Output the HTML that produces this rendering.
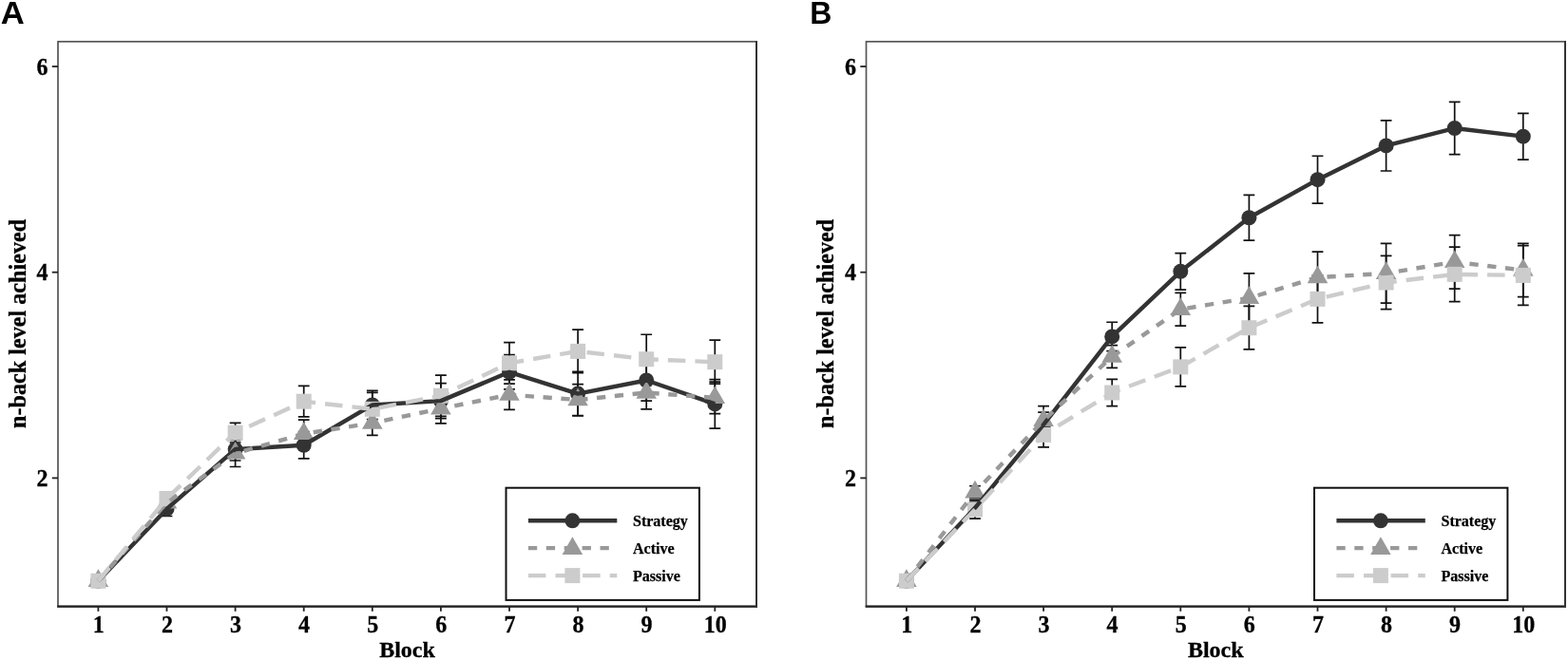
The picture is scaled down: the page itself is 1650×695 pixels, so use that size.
<!DOCTYPE html>
<html><head><meta charset="utf-8"><title>n-back level achieved by block</title>
<style>
html,body{margin:0;padding:0;background:#fff;}
body{width:1650px;height:695px;overflow:hidden;}
svg{display:block;}
.tk{font-family:"Liberation Serif",serif;font-weight:bold;font-size:24px;fill:#000;stroke:#000;stroke-width:0.3px;}
.ax{font-family:"Liberation Serif",serif;font-weight:bold;font-size:24px;fill:#000;stroke:#000;stroke-width:0.3px;}
.lg{font-family:"Liberation Serif",serif;font-weight:bold;font-size:16px;fill:#000;stroke:#000;stroke-width:0.25px;}
.pl{font-family:"Liberation Sans",sans-serif;font-weight:bold;font-size:33px;fill:#000;}
</style></head>
<body>
<svg width="1650" height="695" viewBox="0 0 1650 695">
<rect width="1650" height="695" fill="#fff"/>
<text transform="translate(0.86,24.75) scale(1.05,1)" class="pl">A</text>
<text transform="translate(852.3,24.75) scale(0.97,1)" class="pl">B</text>
<rect x="61.00" y="43.80" width="735.00" height="594.80" fill="none" stroke="#555" stroke-width="1.7"/>
<line x1="60.20" y1="638.60" x2="797.00" y2="638.60" stroke="#222" stroke-width="2.2"/>
<line x1="796.00" y1="43.00" x2="796.00" y2="639.60" stroke="#333" stroke-width="2.0"/>
<line x1="54.80" y1="503.40" x2="61.00" y2="503.40" stroke="#222" stroke-width="1.8"/>
<text transform="translate(50.40,511.90) scale(1,1.06)" class="tk" text-anchor="end">2</text>
<line x1="54.80" y1="286.70" x2="61.00" y2="286.70" stroke="#222" stroke-width="1.8"/>
<text transform="translate(50.40,295.20) scale(1,1.06)" class="tk" text-anchor="end">4</text>
<line x1="54.80" y1="70.00" x2="61.00" y2="70.00" stroke="#222" stroke-width="1.8"/>
<text transform="translate(50.40,78.50) scale(1,1.06)" class="tk" text-anchor="end">6</text>
<line x1="103.40" y1="638.60" x2="103.40" y2="643.80" stroke="#222" stroke-width="1.8"/>
<text transform="translate(103.80,665.7) scale(1,1.06)" class="tk" text-anchor="middle">1</text>
<line x1="175.50" y1="638.60" x2="175.50" y2="643.80" stroke="#222" stroke-width="1.8"/>
<text transform="translate(175.90,665.7) scale(1,1.06)" class="tk" text-anchor="middle">2</text>
<line x1="247.60" y1="638.60" x2="247.60" y2="643.80" stroke="#222" stroke-width="1.8"/>
<text transform="translate(248.00,665.7) scale(1,1.06)" class="tk" text-anchor="middle">3</text>
<line x1="319.70" y1="638.60" x2="319.70" y2="643.80" stroke="#222" stroke-width="1.8"/>
<text transform="translate(320.10,665.7) scale(1,1.06)" class="tk" text-anchor="middle">4</text>
<line x1="391.80" y1="638.60" x2="391.80" y2="643.80" stroke="#222" stroke-width="1.8"/>
<text transform="translate(392.20,665.7) scale(1,1.06)" class="tk" text-anchor="middle">5</text>
<line x1="463.90" y1="638.60" x2="463.90" y2="643.80" stroke="#222" stroke-width="1.8"/>
<text transform="translate(464.30,665.7) scale(1,1.06)" class="tk" text-anchor="middle">6</text>
<line x1="536.00" y1="638.60" x2="536.00" y2="643.80" stroke="#222" stroke-width="1.8"/>
<text transform="translate(536.40,665.7) scale(1,1.06)" class="tk" text-anchor="middle">7</text>
<line x1="608.10" y1="638.60" x2="608.10" y2="643.80" stroke="#222" stroke-width="1.8"/>
<text transform="translate(608.50,665.7) scale(1,1.06)" class="tk" text-anchor="middle">8</text>
<line x1="680.20" y1="638.60" x2="680.20" y2="643.80" stroke="#222" stroke-width="1.8"/>
<text transform="translate(680.60,665.7) scale(1,1.06)" class="tk" text-anchor="middle">9</text>
<line x1="752.30" y1="638.60" x2="752.30" y2="643.80" stroke="#222" stroke-width="1.8"/>
<text transform="translate(752.70,665.7) scale(1,1.06)" class="tk" text-anchor="middle">10</text>
<text x="428.50" y="691.6" class="ax" text-anchor="middle">Block</text>
<text transform="translate(26.50,340.90) rotate(-90)" class="ax" style="font-size:24.2px" text-anchor="middle">n-back level achieved</text>
<path d="M169.60 528.32H181.40M175.50 528.32V543.49M169.60 543.49H181.40" stroke="#111" stroke-width="1.7" fill="none"/>
<path d="M241.70 461.14H253.50M247.60 461.14V484.98M241.70 484.98H253.50" stroke="#111" stroke-width="1.7" fill="none"/>
<path d="M313.80 454.64H325.60M319.70 454.64V482.81M313.80 482.81H325.60" stroke="#111" stroke-width="1.7" fill="none"/>
<path d="M385.90 411.30H397.70M391.80 411.30V441.64M385.90 441.64H397.70" stroke="#111" stroke-width="1.7" fill="none"/>
<path d="M458.00 403.72H469.80M463.90 403.72V440.56M458.00 440.56H469.80" stroke="#111" stroke-width="1.7" fill="none"/>
<path d="M530.10 373.71H541.90M536.00 373.71V409.89M530.10 409.89H541.90" stroke="#111" stroke-width="1.7" fill="none"/>
<path d="M602.20 391.26H614.00M608.10 391.26V437.85M602.20 437.85H614.00" stroke="#111" stroke-width="1.7" fill="none"/>
<path d="M674.30 378.80H686.10M680.20 378.80V422.14M674.30 422.14H686.10" stroke="#111" stroke-width="1.7" fill="none"/>
<path d="M746.40 399.60H758.20M752.30 399.60V451.18M746.40 451.18H758.20" stroke="#111" stroke-width="1.7" fill="none"/>
<path d="M169.60 522.90H181.40M175.50 522.90V535.90M169.60 535.90H181.40" stroke="#111" stroke-width="1.7" fill="none"/>
<path d="M241.70 463.31H253.50M247.60 463.31V491.48M241.70 491.48H253.50" stroke="#111" stroke-width="1.7" fill="none"/>
<path d="M313.80 442.07H325.60M319.70 442.07V471.55M313.80 471.55H325.60" stroke="#111" stroke-width="1.7" fill="none"/>
<path d="M385.90 432.43H397.70M391.80 432.43V458.43M385.90 458.43H397.70" stroke="#111" stroke-width="1.7" fill="none"/>
<path d="M458.00 414.55H469.80M463.90 414.55V445.97M458.00 445.97H469.80" stroke="#111" stroke-width="1.7" fill="none"/>
<path d="M530.10 399.93H541.90M536.00 399.93V431.35M530.10 431.35H541.90" stroke="#111" stroke-width="1.7" fill="none"/>
<path d="M602.20 404.58H614.00M608.10 404.58V437.52M602.20 437.52H614.00" stroke="#111" stroke-width="1.7" fill="none"/>
<path d="M674.30 396.13H686.10M680.20 396.13V430.81M674.30 430.81H686.10" stroke="#111" stroke-width="1.7" fill="none"/>
<path d="M746.40 402.20H758.20M752.30 402.20V435.57M746.40 435.57H758.20" stroke="#111" stroke-width="1.7" fill="none"/>
<path d="M169.60 518.57H181.40M175.50 518.57V531.57M169.60 531.57H181.40" stroke="#111" stroke-width="1.7" fill="none"/>
<path d="M241.70 445.43H253.50M247.60 445.43V466.02M241.70 466.02H253.50" stroke="#111" stroke-width="1.7" fill="none"/>
<path d="M313.80 406.43H325.60M319.70 406.43V438.93M313.80 438.93H325.60" stroke="#111" stroke-width="1.7" fill="none"/>
<path d="M385.90 413.47H397.70M391.80 413.47V448.14M385.90 448.14H397.70" stroke="#111" stroke-width="1.7" fill="none"/>
<path d="M458.00 395.05H469.80M463.90 395.05V438.39M458.00 438.39H469.80" stroke="#111" stroke-width="1.7" fill="none"/>
<path d="M530.10 360.70H541.90M536.00 360.70V404.04M530.10 404.04H541.90" stroke="#111" stroke-width="1.7" fill="none"/>
<path d="M602.20 347.16H614.00M608.10 347.16V392.67M602.20 392.67H614.00" stroke="#111" stroke-width="1.7" fill="none"/>
<path d="M674.30 352.25H686.10M680.20 352.25V404.26M674.30 404.26H686.10" stroke="#111" stroke-width="1.7" fill="none"/>
<path d="M746.40 358.21H758.20M752.30 358.21V404.15M746.40 404.15H758.20" stroke="#111" stroke-width="1.7" fill="none"/>
<circle cx="103.40" cy="611.75" r="8.00" fill="#333333"/>
<circle cx="175.50" cy="535.90" r="8.00" fill="#333333"/>
<circle cx="247.60" cy="473.06" r="8.00" fill="#333333"/>
<circle cx="319.70" cy="468.73" r="8.00" fill="#333333"/>
<circle cx="391.80" cy="426.47" r="8.00" fill="#333333"/>
<circle cx="463.90" cy="422.14" r="8.00" fill="#333333"/>
<circle cx="536.00" cy="391.80" r="8.00" fill="#333333"/>
<circle cx="608.10" cy="414.55" r="8.00" fill="#333333"/>
<circle cx="680.20" cy="400.47" r="8.00" fill="#333333"/>
<circle cx="752.30" cy="425.39" r="8.00" fill="#333333"/>
<polygon points="103.40,599.31 114.17,617.97 92.63,617.97" fill="#999999"/>
<polygon points="175.50,516.96 186.27,535.62 164.73,535.62" fill="#999999"/>
<polygon points="247.60,464.96 258.37,483.62 236.83,483.62" fill="#999999"/>
<polygon points="319.70,444.37 330.47,463.03 308.93,463.03" fill="#999999"/>
<polygon points="391.80,432.99 402.57,451.65 381.03,451.65" fill="#999999"/>
<polygon points="463.90,417.82 474.67,436.48 453.13,436.48" fill="#999999"/>
<polygon points="536.00,403.20 546.77,421.86 525.23,421.86" fill="#999999"/>
<polygon points="608.10,408.61 618.87,427.27 597.33,427.27" fill="#999999"/>
<polygon points="680.20,401.03 690.97,419.69 669.43,419.69" fill="#999999"/>
<polygon points="752.30,406.45 763.07,425.11 741.53,425.11" fill="#999999"/>
<rect x="95.40" y="603.75" width="16.00" height="16.00" fill="#cccccc"/>
<rect x="167.50" y="517.07" width="16.00" height="16.00" fill="#cccccc"/>
<rect x="239.60" y="447.73" width="16.00" height="16.00" fill="#cccccc"/>
<rect x="311.70" y="414.68" width="16.00" height="16.00" fill="#cccccc"/>
<rect x="383.80" y="422.81" width="16.00" height="16.00" fill="#cccccc"/>
<rect x="455.90" y="408.72" width="16.00" height="16.00" fill="#cccccc"/>
<rect x="528.00" y="374.37" width="16.00" height="16.00" fill="#cccccc"/>
<rect x="600.10" y="361.91" width="16.00" height="16.00" fill="#cccccc"/>
<rect x="672.20" y="370.26" width="16.00" height="16.00" fill="#cccccc"/>
<rect x="744.30" y="373.18" width="16.00" height="16.00" fill="#cccccc"/>
<polyline points="103.40,611.75 175.50,535.90 247.60,473.06 319.70,468.73 391.80,426.47 463.90,422.14 536.00,391.80 608.10,414.55 680.20,400.47 752.30,425.39" fill="none" stroke="#333333" stroke-width="4.4" stroke-linejoin="round"/>
<polyline points="103.40,611.75 175.50,529.40 247.60,477.40 319.70,456.81 391.80,445.43 463.90,430.26 536.00,415.64 608.10,421.05 680.20,413.47 752.30,418.89" fill="none" stroke="#999999" stroke-width="4.4" stroke-linejoin="round" stroke-dasharray="9.3 9.6"/>
<polyline points="103.40,611.75 175.50,525.07 247.60,455.73 319.70,422.68 391.80,430.81 463.90,416.72 536.00,382.37 608.10,369.91 680.20,378.26 752.30,381.18" fill="none" stroke="#cccccc" stroke-width="4.4" stroke-linejoin="round" stroke-dasharray="18.5 10.1"/>
<rect x="532.50" y="513.70" width="203.40" height="118.20" fill="#fff" stroke="#111" stroke-width="2"/>
<line x1="555.90" y1="548.3" x2="649.30" y2="548.3" stroke="#333333" stroke-width="4.4"/>
<circle cx="602.40" cy="548.30" r="8.00" fill="#333333"/>
<line x1="555.90" y1="577.1" x2="649.30" y2="577.1" stroke="#999999" stroke-width="4.4" stroke-dasharray="9.3 9.6"/>
<polygon points="602.40,565.26 613.17,583.92 591.63,583.92" fill="#999999"/>
<line x1="555.90" y1="606.1" x2="649.30" y2="606.1" stroke="#cccccc" stroke-width="4.4" stroke-dasharray="18.5 10.1"/>
<rect x="594.40" y="598.10" width="16.00" height="16.00" fill="#cccccc"/>
<text x="666.00" y="554.10" class="lg">Strategy</text>
<text x="666.00" y="582.90" class="lg">Active</text>
<text x="666.00" y="611.90" class="lg">Passive</text>
<rect x="911.50" y="43.80" width="735.50" height="594.80" fill="none" stroke="#555" stroke-width="1.7"/>
<line x1="910.70" y1="638.60" x2="1648.00" y2="638.60" stroke="#222" stroke-width="2.2"/>
<line x1="1647.00" y1="43.00" x2="1647.00" y2="639.60" stroke="#333" stroke-width="2.0"/>
<line x1="905.30" y1="503.40" x2="911.50" y2="503.40" stroke="#222" stroke-width="1.8"/>
<text transform="translate(900.90,511.90) scale(1,1.06)" class="tk" text-anchor="end">2</text>
<line x1="905.30" y1="286.70" x2="911.50" y2="286.70" stroke="#222" stroke-width="1.8"/>
<text transform="translate(900.90,295.20) scale(1,1.06)" class="tk" text-anchor="end">4</text>
<line x1="905.30" y1="70.00" x2="911.50" y2="70.00" stroke="#222" stroke-width="1.8"/>
<text transform="translate(900.90,78.50) scale(1,1.06)" class="tk" text-anchor="end">6</text>
<line x1="953.90" y1="638.60" x2="953.90" y2="643.80" stroke="#222" stroke-width="1.8"/>
<text transform="translate(954.30,665.7) scale(1,1.06)" class="tk" text-anchor="middle">1</text>
<line x1="1026.00" y1="638.60" x2="1026.00" y2="643.80" stroke="#222" stroke-width="1.8"/>
<text transform="translate(1026.40,665.7) scale(1,1.06)" class="tk" text-anchor="middle">2</text>
<line x1="1098.10" y1="638.60" x2="1098.10" y2="643.80" stroke="#222" stroke-width="1.8"/>
<text transform="translate(1098.50,665.7) scale(1,1.06)" class="tk" text-anchor="middle">3</text>
<line x1="1170.20" y1="638.60" x2="1170.20" y2="643.80" stroke="#222" stroke-width="1.8"/>
<text transform="translate(1170.60,665.7) scale(1,1.06)" class="tk" text-anchor="middle">4</text>
<line x1="1242.30" y1="638.60" x2="1242.30" y2="643.80" stroke="#222" stroke-width="1.8"/>
<text transform="translate(1242.70,665.7) scale(1,1.06)" class="tk" text-anchor="middle">5</text>
<line x1="1314.40" y1="638.60" x2="1314.40" y2="643.80" stroke="#222" stroke-width="1.8"/>
<text transform="translate(1314.80,665.7) scale(1,1.06)" class="tk" text-anchor="middle">6</text>
<line x1="1386.50" y1="638.60" x2="1386.50" y2="643.80" stroke="#222" stroke-width="1.8"/>
<text transform="translate(1386.90,665.7) scale(1,1.06)" class="tk" text-anchor="middle">7</text>
<line x1="1458.60" y1="638.60" x2="1458.60" y2="643.80" stroke="#222" stroke-width="1.8"/>
<text transform="translate(1459.00,665.7) scale(1,1.06)" class="tk" text-anchor="middle">8</text>
<line x1="1530.70" y1="638.60" x2="1530.70" y2="643.80" stroke="#222" stroke-width="1.8"/>
<text transform="translate(1531.10,665.7) scale(1,1.06)" class="tk" text-anchor="middle">9</text>
<line x1="1602.80" y1="638.60" x2="1602.80" y2="643.80" stroke="#222" stroke-width="1.8"/>
<text transform="translate(1603.20,665.7) scale(1,1.06)" class="tk" text-anchor="middle">10</text>
<text x="1279.25" y="691.6" class="ax" text-anchor="middle">Block</text>
<text transform="translate(877.00,340.90) rotate(-90)" class="ax" style="font-size:24.2px" text-anchor="middle">n-back level achieved</text>
<path d="M1020.10 528.32H1031.90M1026.00 528.32V541.32M1020.10 541.32H1031.90" stroke="#111" stroke-width="1.7" fill="none"/>
<path d="M1092.20 434.06H1104.00M1098.10 434.06V460.06M1092.20 460.06H1104.00" stroke="#111" stroke-width="1.7" fill="none"/>
<path d="M1164.30 339.25H1176.10M1170.20 339.25V369.59M1164.30 369.59H1176.10" stroke="#111" stroke-width="1.7" fill="none"/>
<path d="M1236.40 266.55H1248.20M1242.30 266.55V305.12M1236.40 305.12H1248.20" stroke="#111" stroke-width="1.7" fill="none"/>
<path d="M1308.50 205.44H1320.30M1314.40 205.44V253.11M1308.50 253.11H1320.30" stroke="#111" stroke-width="1.7" fill="none"/>
<path d="M1380.60 164.26H1392.40M1386.50 164.26V214.11M1380.60 214.11H1392.40" stroke="#111" stroke-width="1.7" fill="none"/>
<path d="M1452.70 126.88H1464.50M1458.60 126.88V179.98M1452.70 179.98H1464.50" stroke="#111" stroke-width="1.7" fill="none"/>
<path d="M1524.80 107.38H1536.60M1530.70 107.38V162.64M1524.80 162.64H1536.60" stroke="#111" stroke-width="1.7" fill="none"/>
<path d="M1596.90 119.30H1608.70M1602.80 119.30V168.06M1596.90 168.06H1608.70" stroke="#111" stroke-width="1.7" fill="none"/>
<path d="M1020.10 511.74H1031.90M1026.00 511.74V524.74M1020.10 524.74H1031.90" stroke="#111" stroke-width="1.7" fill="none"/>
<path d="M1092.20 427.55H1104.00M1098.10 427.55V457.89M1092.20 457.89H1104.00" stroke="#111" stroke-width="1.7" fill="none"/>
<path d="M1164.30 363.63H1176.10M1170.20 363.63V387.47M1164.30 387.47H1176.10" stroke="#111" stroke-width="1.7" fill="none"/>
<path d="M1236.40 308.37H1248.20M1242.30 308.37V343.04M1236.40 343.04H1248.20" stroke="#111" stroke-width="1.7" fill="none"/>
<path d="M1308.50 287.78H1320.30M1314.40 287.78V339.79M1308.50 339.79H1320.30" stroke="#111" stroke-width="1.7" fill="none"/>
<path d="M1380.60 265.03H1392.40M1386.50 265.03V319.20M1380.60 319.20H1392.40" stroke="#111" stroke-width="1.7" fill="none"/>
<path d="M1452.70 256.36H1464.50M1458.60 256.36V319.20M1452.70 319.20H1464.50" stroke="#111" stroke-width="1.7" fill="none"/>
<path d="M1524.80 247.69H1536.60M1530.70 247.69V304.04M1524.80 304.04H1536.60" stroke="#111" stroke-width="1.7" fill="none"/>
<path d="M1596.90 256.36H1608.70M1602.80 256.36V312.70M1596.90 312.70H1608.70" stroke="#111" stroke-width="1.7" fill="none"/>
<path d="M1020.10 526.70H1031.90M1026.00 526.70V546.20M1020.10 546.20H1031.90" stroke="#111" stroke-width="1.7" fill="none"/>
<path d="M1092.20 444.89H1104.00M1098.10 444.89V470.89M1092.20 470.89H1104.00" stroke="#111" stroke-width="1.7" fill="none"/>
<path d="M1164.30 399.38H1176.10M1170.20 399.38V427.55M1164.30 427.55H1176.10" stroke="#111" stroke-width="1.7" fill="none"/>
<path d="M1236.40 365.80H1248.20M1242.30 365.80V406.97M1236.40 406.97H1248.20" stroke="#111" stroke-width="1.7" fill="none"/>
<path d="M1308.50 322.46H1320.30M1314.40 322.46V367.96M1308.50 367.96H1320.30" stroke="#111" stroke-width="1.7" fill="none"/>
<path d="M1380.60 289.95H1392.40M1386.50 289.95V339.79M1380.60 339.79H1392.40" stroke="#111" stroke-width="1.7" fill="none"/>
<path d="M1452.70 269.36H1464.50M1458.60 269.36V325.71M1452.70 325.71H1464.50" stroke="#111" stroke-width="1.7" fill="none"/>
<path d="M1524.80 260.15H1536.60M1530.70 260.15V317.58M1524.80 317.58H1536.60" stroke="#111" stroke-width="1.7" fill="none"/>
<path d="M1596.90 258.53H1608.70M1602.80 258.53V321.37M1596.90 321.37H1608.70" stroke="#111" stroke-width="1.7" fill="none"/>
<circle cx="953.90" cy="611.75" r="8.00" fill="#333333"/>
<circle cx="1026.00" cy="534.82" r="8.00" fill="#333333"/>
<circle cx="1098.10" cy="447.06" r="8.00" fill="#333333"/>
<circle cx="1170.20" cy="354.42" r="8.00" fill="#333333"/>
<circle cx="1242.30" cy="285.83" r="8.00" fill="#333333"/>
<circle cx="1314.40" cy="229.27" r="8.00" fill="#333333"/>
<circle cx="1386.50" cy="189.18" r="8.00" fill="#333333"/>
<circle cx="1458.60" cy="153.43" r="8.00" fill="#333333"/>
<circle cx="1530.70" cy="135.01" r="8.00" fill="#333333"/>
<circle cx="1602.80" cy="143.68" r="8.00" fill="#333333"/>
<polygon points="953.90,599.31 964.67,617.97 943.13,617.97" fill="#999999"/>
<polygon points="1026.00,505.80 1036.77,524.46 1015.23,524.46" fill="#999999"/>
<polygon points="1098.10,430.28 1108.87,448.94 1087.33,448.94" fill="#999999"/>
<polygon points="1170.20,363.11 1180.97,381.77 1159.43,381.77" fill="#999999"/>
<polygon points="1242.30,313.27 1253.07,331.93 1231.53,331.93" fill="#999999"/>
<polygon points="1314.40,301.35 1325.17,320.01 1303.63,320.01" fill="#999999"/>
<polygon points="1386.50,279.68 1397.27,298.34 1375.73,298.34" fill="#999999"/>
<polygon points="1458.60,275.34 1469.37,294.00 1447.83,294.00" fill="#999999"/>
<polygon points="1530.70,263.42 1541.47,282.09 1519.93,282.09" fill="#999999"/>
<polygon points="1602.80,272.09 1613.57,290.75 1592.03,290.75" fill="#999999"/>
<rect x="945.90" y="603.75" width="16.00" height="16.00" fill="#cccccc"/>
<rect x="1018.00" y="528.45" width="16.00" height="16.00" fill="#cccccc"/>
<rect x="1090.10" y="449.89" width="16.00" height="16.00" fill="#cccccc"/>
<rect x="1162.20" y="405.47" width="16.00" height="16.00" fill="#cccccc"/>
<rect x="1234.30" y="378.38" width="16.00" height="16.00" fill="#cccccc"/>
<rect x="1306.40" y="337.21" width="16.00" height="16.00" fill="#cccccc"/>
<rect x="1378.50" y="306.87" width="16.00" height="16.00" fill="#cccccc"/>
<rect x="1450.60" y="289.53" width="16.00" height="16.00" fill="#cccccc"/>
<rect x="1522.70" y="280.87" width="16.00" height="16.00" fill="#cccccc"/>
<rect x="1594.80" y="281.95" width="16.00" height="16.00" fill="#cccccc"/>
<polyline points="953.90,611.75 1026.00,534.82 1098.10,447.06 1170.20,354.42 1242.30,285.83 1314.40,229.27 1386.50,189.18 1458.60,153.43 1530.70,135.01 1602.80,143.68" fill="none" stroke="#333333" stroke-width="4.4" stroke-linejoin="round"/>
<polyline points="953.90,611.75 1026.00,518.24 1098.10,442.72 1170.20,375.55 1242.30,325.71 1314.40,313.79 1386.50,292.12 1458.60,287.78 1530.70,275.87 1602.80,284.53" fill="none" stroke="#999999" stroke-width="4.4" stroke-linejoin="round" stroke-dasharray="9.3 9.6"/>
<polyline points="953.90,611.75 1026.00,536.45 1098.10,457.89 1170.20,413.47 1242.30,386.38 1314.40,345.21 1386.50,314.87 1458.60,297.53 1530.70,288.87 1602.80,289.95" fill="none" stroke="#cccccc" stroke-width="4.4" stroke-linejoin="round" stroke-dasharray="18.5 10.1"/>
<rect x="1383.00" y="513.70" width="203.40" height="118.20" fill="#fff" stroke="#111" stroke-width="2"/>
<line x1="1406.40" y1="548.3" x2="1499.80" y2="548.3" stroke="#333333" stroke-width="4.4"/>
<circle cx="1452.90" cy="548.30" r="8.00" fill="#333333"/>
<line x1="1406.40" y1="577.1" x2="1499.80" y2="577.1" stroke="#999999" stroke-width="4.4" stroke-dasharray="9.3 9.6"/>
<polygon points="1452.90,565.26 1463.67,583.92 1442.13,583.92" fill="#999999"/>
<line x1="1406.40" y1="606.1" x2="1499.80" y2="606.1" stroke="#cccccc" stroke-width="4.4" stroke-dasharray="18.5 10.1"/>
<rect x="1444.90" y="598.10" width="16.00" height="16.00" fill="#cccccc"/>
<text x="1516.50" y="554.10" class="lg">Strategy</text>
<text x="1516.50" y="582.90" class="lg">Active</text>
<text x="1516.50" y="611.90" class="lg">Passive</text>
</svg>
</body></html>
